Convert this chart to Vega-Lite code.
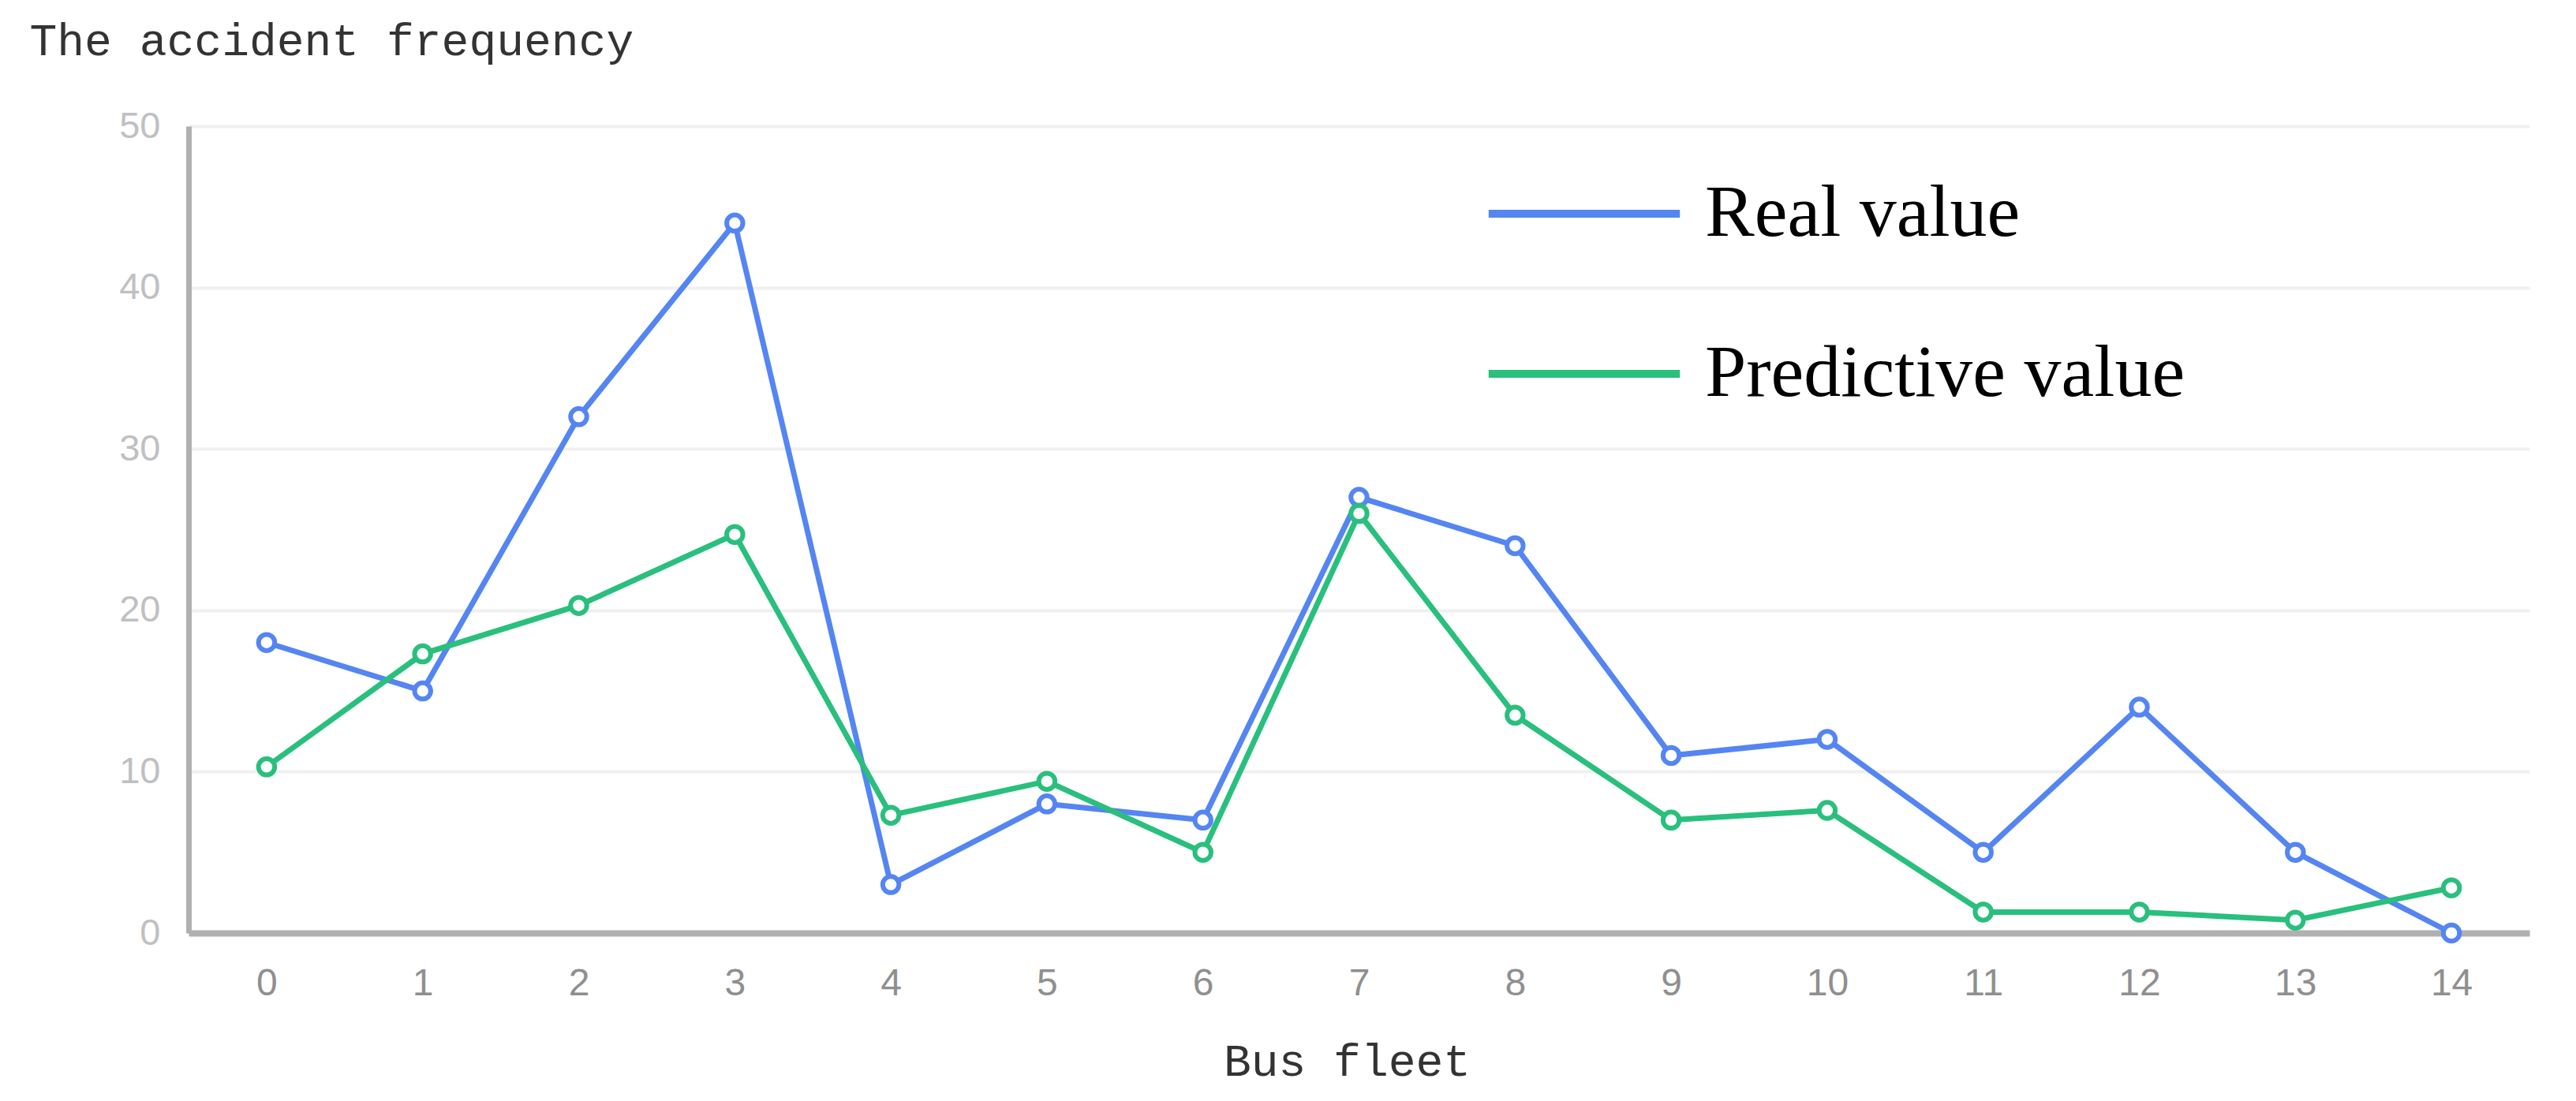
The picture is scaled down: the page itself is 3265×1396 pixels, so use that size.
{
  "$schema": "https://vega.github.io/schema/vega-lite/v6.json",
  "width": 2967,
  "height": 1023,
  "autosize": "none",
  "padding": {"left": 239, "top": 160, "right": 59, "bottom": 213},
  "background": "white",
  "data": {
    "values": [
      {"fleet": 0, "series": "Real value", "value": 18},
      {"fleet": 1, "series": "Real value", "value": 15},
      {"fleet": 2, "series": "Real value", "value": 32},
      {"fleet": 3, "series": "Real value", "value": 44},
      {"fleet": 4, "series": "Real value", "value": 3},
      {"fleet": 5, "series": "Real value", "value": 8},
      {"fleet": 6, "series": "Real value", "value": 7},
      {"fleet": 7, "series": "Real value", "value": 27},
      {"fleet": 8, "series": "Real value", "value": 24},
      {"fleet": 9, "series": "Real value", "value": 11},
      {"fleet": 10, "series": "Real value", "value": 12},
      {"fleet": 11, "series": "Real value", "value": 5},
      {"fleet": 12, "series": "Real value", "value": 14},
      {"fleet": 13, "series": "Real value", "value": 5},
      {"fleet": 14, "series": "Real value", "value": 0},
      {"fleet": 0, "series": "Predictive value", "value": 10.3},
      {"fleet": 1, "series": "Predictive value", "value": 17.3},
      {"fleet": 2, "series": "Predictive value", "value": 20.3},
      {"fleet": 3, "series": "Predictive value", "value": 24.7},
      {"fleet": 4, "series": "Predictive value", "value": 7.3},
      {"fleet": 5, "series": "Predictive value", "value": 9.4},
      {"fleet": 6, "series": "Predictive value", "value": 5},
      {"fleet": 7, "series": "Predictive value", "value": 26},
      {"fleet": 8, "series": "Predictive value", "value": 13.5},
      {"fleet": 9, "series": "Predictive value", "value": 7},
      {"fleet": 10, "series": "Predictive value", "value": 7.6},
      {"fleet": 11, "series": "Predictive value", "value": 1.3},
      {"fleet": 12, "series": "Predictive value", "value": 1.3},
      {"fleet": 13, "series": "Predictive value", "value": 0.8},
      {"fleet": 14, "series": "Predictive value", "value": 2.8}
    ]
  },
  "encoding": {
    "x": {
      "field": "fleet",
      "type": "ordinal",
      "scale": {"type": "point", "padding": 0.5},
      "axis": {
        "title": "Bus fleet",
        "labelAngle": 0,
        "grid": false,
        "ticks": false,
        "domainColor": "#b0b0b0",
        "domainWidth": 8,
        "labelFont": "Liberation Sans",
        "labelFontSize": 48,
        "labelColor": "#8f8f8f",
        "labelPadding": 40,
        "titleFont": "Liberation Mono",
        "titleFontSize": 58,
        "titleFontWeight": "normal",
        "titleColor": "#333333",
        "titleBaseline": "alphabetic",
        "titleX": 1468,
        "titleY": 180
      }
    },
    "y": {
      "field": "value",
      "type": "quantitative",
      "scale": {"domain": [0, 50], "nice": false},
      "axis": {
        "title": "The accident frequency",
        "values": [0, 10, 20, 30, 40, 50],
        "grid": true,
        "gridColor": "#f0f0f0",
        "gridWidth": 4,
        "ticks": false,
        "domainColor": "#b0b0b0",
        "domainWidth": 7,
        "labelFont": "Liberation Sans",
        "labelFontSize": 47,
        "labelColor": "#c0c0c0",
        "labelPadding": 36,
        "titleFont": "Liberation Mono",
        "titleFontSize": 58,
        "titleFontWeight": "normal",
        "titleColor": "#333333",
        "titleAngle": 0,
        "titleAlign": "left",
        "titleBaseline": "middle",
        "titleX": -202,
        "titleY": -108
      }
    }
  },
  "layer": [
    {
      "mark": {"type": "line", "strokeWidth": 7},
      "encoding": {
        "color": {
          "field": "series",
          "type": "nominal",
          "sort": ["Real value", "Predictive value"],
          "scale": {"domain": ["Real value", "Predictive value"], "range": ["#5485f2", "#29bf7d"]},
          "legend": {
            "title": null,
            "orient": "none",
            "legendX": 1663,
            "legendY": 5,
            "padding": 0,
            "rowPadding": 50,
            "symbolType": "M-1.2,0L1.2,0",
            "symbolSize": 40804,
            "symbolStrokeWidth": 10,
            "labelOffset": 47,
            "labelFont": "Liberation Serif",
            "labelFontSize": 94,
            "labelColor": "#000000",
            "labelLimit": 0
          }
        }
      }
    },
    {
      "mark": {"type": "point", "shape": "circle", "filled": false, "fill": "white", "fillOpacity": 1, "strokeWidth": 6, "size": 420, "opacity": 1},
      "encoding": {
        "stroke": {
          "field": "series",
          "type": "nominal",
          "scale": {"domain": ["Real value", "Predictive value"], "range": ["#5485f2", "#29bf7d"]},
          "legend": null
        }
      }
    }
  ],
  "config": {
    "view": {"stroke": null}
  }
}
